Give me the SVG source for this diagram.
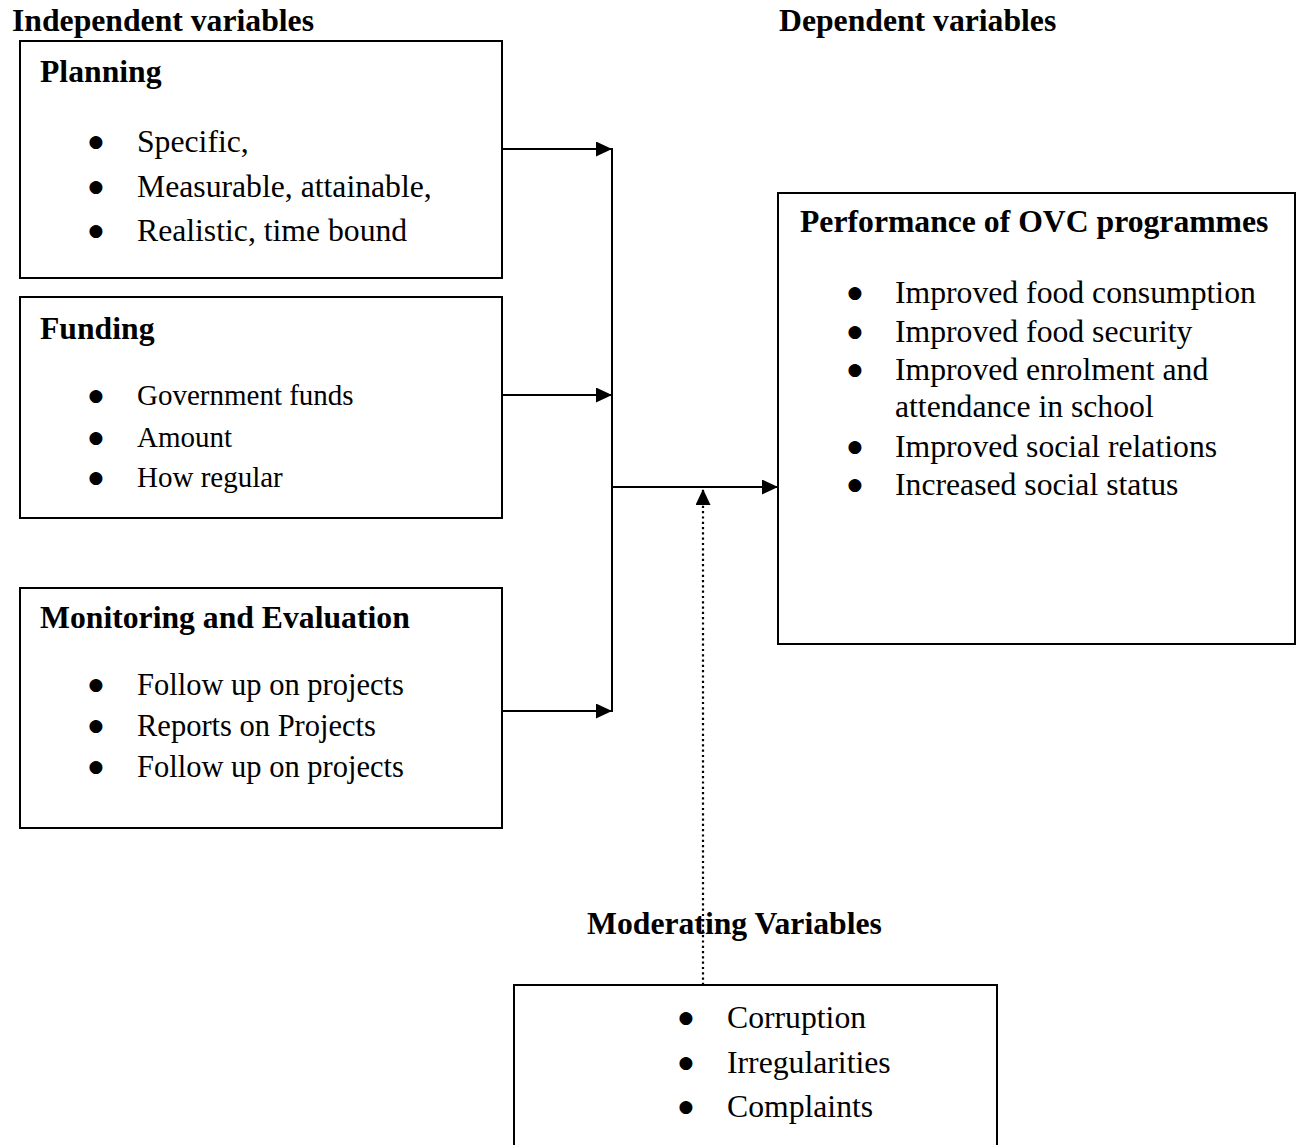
<svg xmlns="http://www.w3.org/2000/svg" width="1296" height="1145" viewBox="0 0 1296 1145">
<defs>
<style>
text{font-family:"Liberation Serif","Times New Roman",serif;fill:#000}
.h{font-weight:bold;font-size:31.7px}
.t{font-size:31.7px}
.f{font-size:29px}
.m{font-size:30.5px}
.b{font-family:"DejaVu Sans",sans-serif;font-size:17px;text-anchor:middle}
.box{fill:#fff;stroke:#000;stroke-width:2}
.ln{fill:none;stroke:#000;stroke-width:2}
.dot{fill:none;stroke:#000;stroke-width:2.2;stroke-dasharray:2.2 3.1}
</style>
<marker id="ah" markerWidth="16" markerHeight="15" refX="16" refY="7.5" orient="auto" markerUnits="userSpaceOnUse">
<path d="M0,0 L16,7.5 L0,15 Z" fill="#000"/>
</marker>
</defs>
<rect width="1296" height="1145" fill="#fff"/>
<text class="h" x="12" y="31">Independent variables</text>
<text class="h" x="779" y="31">Dependent variables</text>
<g id="planning">
<rect class="box" x="20" y="41" width="482" height="237"/>
<text class="h" x="40" y="82">Planning</text>
<text class="b" x="96" y="147">●</text><text class="t" x="137" y="152">Specific,</text>
<text class="b" x="96" y="192">●</text><text class="t" x="137" y="197">Measurable, attainable,</text>
<text class="b" x="96" y="236">●</text><text class="t" x="137" y="241">Realistic, time bound</text>
</g>
<g id="funding">
<rect class="box" x="20" y="297" width="482" height="221"/>
<text class="h" x="40" y="339">Funding</text>
<text class="b" x="96" y="401">●</text><text class="f" x="137" y="405">Government funds</text>
<text class="b" x="96" y="443">●</text><text class="f" x="137" y="447">Amount</text>
<text class="b" x="96" y="483">●</text><text class="f" x="137" y="487">How regular</text>
</g>
<g id="monitoring">
<rect class="box" x="20" y="588" width="482" height="240"/>
<text class="h" x="40" y="628">Monitoring and Evaluation</text>
<text class="b" x="96" y="690">●</text><text class="m" x="137" y="695">Follow up on projects</text>
<text class="b" x="96" y="731">●</text><text class="m" x="137" y="736">Reports on Projects</text>
<text class="b" x="96" y="772">●</text><text class="m" x="137" y="777">Follow up on projects</text>
</g>
<g id="performance">
<rect class="box" x="778" y="193" width="517" height="451"/>
<text class="h" x="800" y="232">Performance of OVC programmes</text>
<text class="b" x="855" y="298">●</text><text class="t" x="895" y="303">Improved food consumption</text>
<text class="b" x="855" y="337">●</text><text class="t" x="895" y="342">Improved food security</text>
<text class="b" x="855" y="375">●</text><text class="t" x="895" y="380">Improved enrolment and</text>
<text class="t" x="895" y="417">attendance in school</text>
<text class="b" x="855" y="452">●</text><text class="t" x="895" y="457">Improved social relations</text>
<text class="b" x="855" y="490">●</text><text class="t" x="895" y="495">Increased social status</text>
</g>
<g id="moderating">
<text class="h" x="587" y="934">Moderating Variables</text>
<rect class="box" x="514" y="985" width="483" height="170"/>
<text class="b" x="686" y="1023">●</text><text class="t" x="727" y="1028">Corruption</text>
<text class="b" x="686" y="1068">●</text><text class="t" x="727" y="1073">Irregularities</text>
<text class="b" x="686" y="1112">●</text><text class="t" x="727" y="1117">Complaints</text>
</g>
<g id="connectors">
<line class="ln" x1="502" y1="149" x2="612" y2="149" marker-end="url(#ah)"/>
<line class="ln" x1="502" y1="395" x2="612" y2="395" marker-end="url(#ah)"/>
<line class="ln" x1="502" y1="711" x2="612" y2="711" marker-end="url(#ah)"/>
<line class="ln" x1="612" y1="148" x2="612" y2="712"/>
<line class="ln" x1="612" y1="487" x2="778" y2="487" marker-end="url(#ah)"/>
<line class="dot" x1="703" y1="985" x2="703" y2="489" marker-end="url(#ah)"/>
</g>
</svg>
